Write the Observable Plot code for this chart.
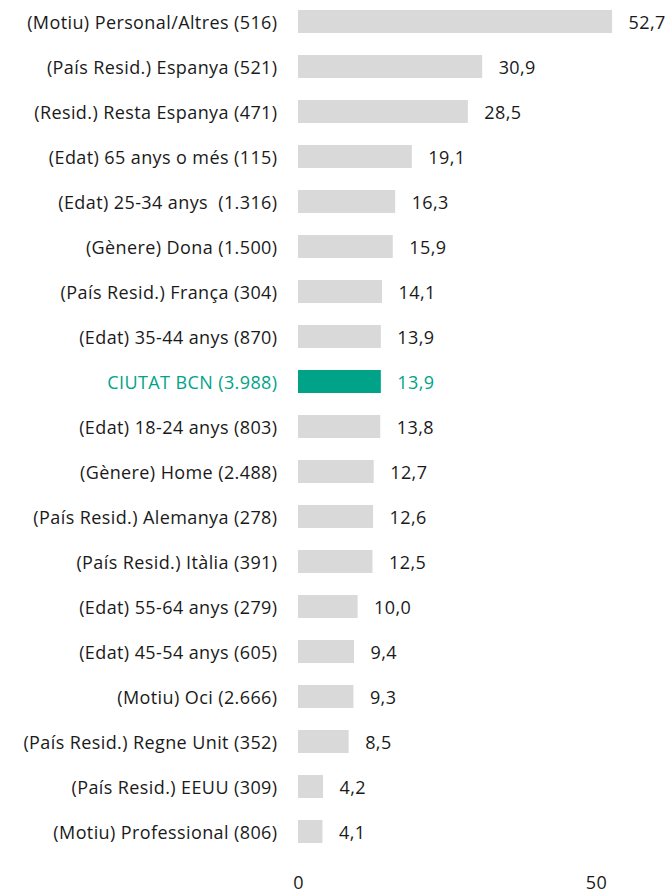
<!DOCTYPE html>
<html>
<head>
<meta charset="utf-8">
<script src="https://cdn.jsdelivr.net/npm/d3@7"></script>
<script src="https://cdn.jsdelivr.net/npm/@observablehq/plot@0.6"></script>
<style>
  html, body { margin: 0; padding: 0; background: #fff; }
  #chart svg { display: block; }
</style>
</head>
<body>
<div id="chart"></div>
<script>
const categories = [
  "(Motiu) Personal/Altres (516)",
  "(País Resid.) Espanya (521)",
  "(Resid.) Resta Espanya (471)",
  "(Edat) 65 anys o més (115)",
  "(Edat) 25-34 anys  (1.316)",
  "(Gènere) Dona (1.500)",
  "(País Resid.) França (304)",
  "(Edat) 35-44 anys (870)",
  "CIUTAT BCN (3.988)",
  "(Edat) 18-24 anys (803)",
  "(Gènere) Home (2.488)",
  "(País Resid.) Alemanya (278)",
  "(País Resid.) Itàlia (391)",
  "(Edat) 55-64 anys (279)",
  "(Edat) 45-54 anys (605)",
  "(Motiu) Oci (2.666)",
  "(País Resid.) Regne Unit (352)",
  "(País Resid.) EEUU (309)",
  "(Motiu) Professional (806)"
];
const values = [52.7, 30.9, 28.5, 19.1, 16.3, 15.9, 14.1, 13.9, 13.9, 13.8, 12.7, 12.6, 12.5, 10.0, 9.4, 9.3, 8.5, 4.2, 4.1];
const highlight = "CIUTAT BCN (3.988)";
const xTicks = [0, 50];

const data = categories.map((c, i) => ({cat: c, value: values[i], hi: c === highlight}));
const fmt = v => v.toFixed(1).replace(".", ",");
const GRAY = "#d9d9d9", TEAL = "#00a387", TEXT = "#1a1a1a";
const FONT = "'Open Sans', Lato, sans-serif";

const chart = Plot.plot({
  width: 672,
  height: 896,
  marginLeft: 298,
  marginRight: 16.4,
  marginTop: 2,
  marginBottom: 45,
  style: {fontFamily: FONT, fontSize: "18px", color: TEXT, background: "#fff", letterSpacing: "0.4px"},
  x: {domain: [0, 60], ticks: xTicks, tickSize: 0, tickPadding: 25, label: null, tickFormat: d => String(d)},
  y: {domain: categories, paddingInner: 0.5, paddingOuter: 0.1, axis: null},
  marks: [
    Plot.barX(data, {x: "value", y: "cat", fill: d => d.hi ? TEAL : GRAY}),
    Plot.text(data, {x: 0, y: "cat", text: "cat", textAnchor: "end", dx: -21, dy: 1,
      fill: d => d.hi ? TEAL : TEXT, fontWeight: d => d.hi ? 300 : 400, fontSize: 18}),
    Plot.text(data, {x: "value", y: "cat", text: d => fmt(d.value), textAnchor: "start", dx: 16, dy: 1,
      fill: d => d.hi ? TEAL : TEXT, fontSize: 18})
  ]
});
document.getElementById("chart").appendChild(chart);
</script>
</body>
</html>
